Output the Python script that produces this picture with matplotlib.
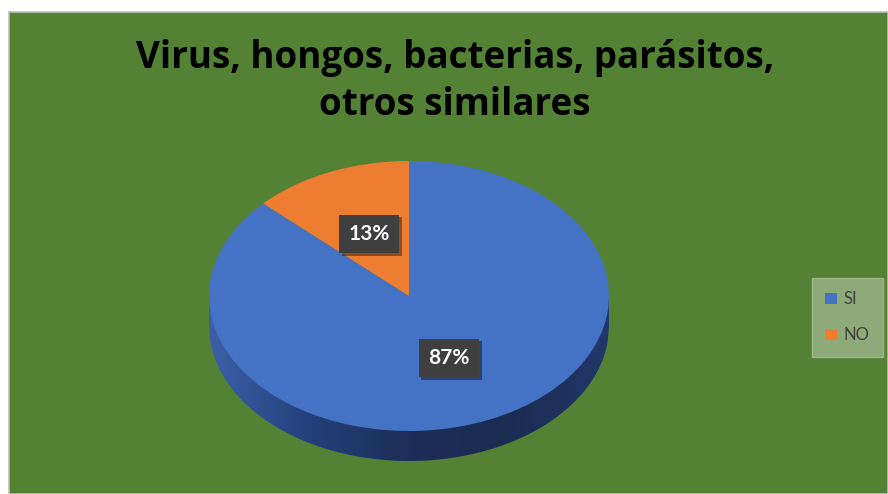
import numpy as np
import matplotlib
matplotlib.use("Agg")
import matplotlib.pyplot as plt
from matplotlib.patches import Rectangle, Polygon
from matplotlib import patheffects as pe

# data
labels = ["SI", "NO"]
values = [87, 13]
colors = ["#4472C4", "#ED7D31"]
title_lines = ["Virus, hongos, bacterias, parásitos,", "otros similares"]

W, H = 888, 494
green = "#548235"

fig = plt.figure(figsize=(W / 100, H / 100), dpi=100)
fig.patch.set_facecolor("white")

# chart area background (slight gray frame on top/left like the screenshot)
fig.patches.append(Rectangle((9 / W, 0), 1 - 9 / W, 1 - 12 / H,
                             transform=fig.transFigure, facecolor=green,
                             edgecolor="#BFBFBF", linewidth=1.2, zorder=-5))

for i, line in enumerate(title_lines):
    fig.text(455 / W, 1 - (68 + 47 * i) / H, line, ha="center", va="baseline",
             fontsize=26.5, fontweight="bold",
             family=["Open Sans", "DejaVu Sans"], color="black")

# pie area, in pixel terms: x -1..1 -> 209..609, radius y = 135 px
rx, ry, depth = 200, 135, 30
d = depth / ry
ax_left = 209 / W
ax_w = 2 * rx / W
ax_top = 161
ax_h = ry * (2 + d)
ax = fig.add_axes([ax_left, 1 - (ax_top + ax_h) / H, ax_w, ax_h / H])

wedges, texts, autotexts = ax.pie(
    values, colors=colors, startangle=90, counterclock=False, radius=1,
    autopct="%1.0f%%", pctdistance=0.5,
    wedgeprops=dict(linewidth=0),
    textprops=dict(color="white", fontsize=15, fontweight="bold",
                   family=["Lato", "DejaVu Sans"]))
for w in wedges:
    w.set_zorder(3)

# side of the 3d disc (only the blue slice is visible at the front)
xs = np.linspace(-1, 1, 300)
lower = -np.sqrt(1 - xs ** 2) - d
side_pts = np.vstack([np.column_stack([xs, lower]), [[1, 0], [-1, 0]]])
side = Polygon(side_pts, closed=True, facecolor="none", edgecolor="none")
ax.add_patch(side)
grad = np.linspace(0, 1, 256).reshape(1, -1)
cmap = matplotlib.colors.LinearSegmentedColormap.from_list(
    "side", ["#3C60A8", "#24407A", "#1C2E58", "#1B2C52", "#22386A"])
im = ax.imshow(grad, extent=[-1, 1, -1 - d, 0], aspect="auto", cmap=cmap,
               zorder=1, interpolation="bicubic")
im.set_clip_path(side)

for t in autotexts:
    t.set_zorder(5)
    t.set_bbox(dict(boxstyle="square,pad=0.45", facecolor="#3F3F3F",
                    edgecolor="none"))
    t.get_bbox_patch().set_path_effects([
        pe.SimplePatchShadow(offset=(2, -2), shadow_rgbFace="black", alpha=0.4),
        pe.Normal()])

ax.set_aspect("auto")
ax.set_xlim(-1, 1)
ax.set_ylim(-1 - d, 1)
ax.axis("off")

leg = fig.legend(wedges, labels, loc="upper left",
                 bbox_to_anchor=(812 / W, 1 - 278 / H),
                 frameon=True, fancybox=False, framealpha=1,
                 facecolor="#8FAA79", edgecolor="#9DB78A",
                 handlelength=0.7, handleheight=0.7, handletextpad=0.4,
                 labelspacing=1.2, borderpad=0.8, borderaxespad=0,
                 prop=dict(family=["Lato", "DejaVu Sans"], size=12))
for t in leg.get_texts():
    t.set_color("#404040")

fig.savefig("out.png", dpi=100)
